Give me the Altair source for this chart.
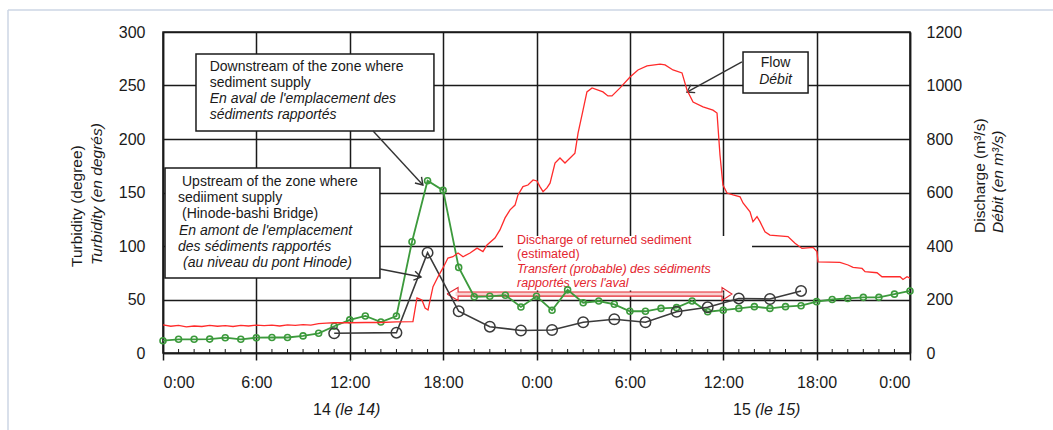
import math
import altair as alt
import pandas as pd

# ---------------- data ----------------
green_hours = list(range(49))
green_turbidity = [11.5, 12.8, 12.8, 13.0, 14.3, 12.8, 14.3, 14.5, 14.5, 16.0,
                   18.4, 25.0, 31.0, 34.6, 29.0, 34.6, 104.0, 161.0, 152.0, 80.0,
                   52.6, 53.0, 54.0, 43.0, 53.0, 40.0, 59.0, 47.0, 48.6, 45.5,
                   39.0, 39.0, 41.7, 42.4, 48.6, 38.6, 40.0, 41.7, 43.3, 41.7,
                   43.3, 44.2, 48.0, 50.0, 51.0, 52.0, 52.0, 55.0, 58.0]

black_hours = [11, 15, 17, 19, 21, 23, 25, 27, 29, 31, 33, 35, 37, 39, 41]
black_turbidity = [18.4, 19.0, 93.8, 39.0, 24.6, 21.0, 21.5, 28.7, 31.5, 28.7,
                   38.6, 42.7, 51.0, 50.5, 58.0]

flow_hours = [0, 0.5, 1, 1.5, 2, 2.5, 3, 3.5, 4, 4.5, 5, 5.5, 6, 6.5, 7, 7.5,
              8, 8.5, 9, 9.5, 10, 10.5, 11, 12, 13, 14, 15, 16.06,
              16.32, 16.64, 16.84, 17.03, 17.35, 17.67, 17.99, 18.31, 18.63,
              18.96, 19.28, 19.73, 20.18, 20.56, 20.82, 21.33, 21.65, 21.98,
              22.30, 22.62, 22.81, 23.13, 23.45, 23.78, 24.03, 24.22, 24.42,
              24.67, 24.87, 25.19, 25.51, 25.83, 26.47, 26.67, 26.99, 27.24,
              27.57, 28.27, 28.59, 28.85, 29.37, 30.01, 30.52, 31.10, 31.94,
              32.26, 32.77, 33.35, 33.67, 34.06, 34.70, 35.34, 35.60, 35.79,
              35.98, 36.24, 36.63, 37.08, 37.27, 37.72, 37.91, 38.17, 38.36,
              38.68, 39.00, 40.16, 40.61, 41.06, 41.77, 42.02, 42.09, 43.50,
              44.02, 44.34, 44.92, 45.11, 45.88, 46.20, 47.36, 47.55, 47.81, 48.0]
flow_discharge = [105, 100, 103, 98, 101, 99, 103, 100, 102, 99, 103, 101, 104,
                  102, 104, 101, 105, 103, 106, 104, 110, 112, 113, 113, 114,
                  114, 116, 117,
                  206, 198, 168, 161, 248, 285, 318, 355, 360,
                  374, 360, 374, 392, 379, 404, 430, 460, 505,
                  535, 553, 591, 622, 628, 647, 643, 622, 603,
                  617, 635, 710, 729, 710, 747, 822, 908, 976,
                  991, 976, 961, 961, 991, 1032, 1058, 1073, 1080,
                  1077, 1058, 1047, 983, 938, 920, 908, 897, 740,
                  628, 598, 591, 584, 561, 528, 491, 510, 491,
                  453, 441, 435, 410, 391, 395, 379, 341, 339,
                  329, 320, 316, 304, 300, 285, 285, 275, 285, 280]

x_tick_hours = [0, 6, 12, 18, 24, 30, 36, 42, 48]
left_ticks = [0, 50, 100, 150, 200, 250, 300]
right_ticks = [0, 200, 400, 600, 800, 1000, 1200]
minor_tick_hours = [h for h in range(49) if h % 6 != 0]

# ---------------- style ----------------
W, H = 747, 321
FONT = "Liberation Sans"
GREEN = "#3c9a3c"
RED = "#ff2b2b"
TEXT_RED = "#e3262f"
INK = "#1a1a1a"
FRAME = "#cdd6e4"

xscale = alt.Scale(domain=[0, 48], nice=False, zero=False)
xaxis = alt.Axis(values=x_tick_hours, title=None, grid=True,
                 labelExpr="floor(datum.value % 24) + ':00'")
yscale = alt.Scale(domain=[0, 300], nice=False)
yaxis = alt.Axis(values=left_ticks, title=None, grid=True, orient="left", format="d")


def X(f="x"):
    return alt.X(f"{f}:Q", scale=xscale, axis=xaxis)


def Y(f="y"):
    return alt.Y(f"{f}:Q", scale=yscale, axis=yaxis)


PXX = W / 48.0
PXY = H / 300.0

# ---------------- data frames ----------------
df_green = pd.DataFrame({"x": green_hours, "y": green_turbidity})
df_black = pd.DataFrame({"x": black_hours, "y": black_turbidity})
df_flow = pd.DataFrame({"x": flow_hours, "q": flow_discharge})
df_minor = pd.DataFrame({"x": minor_tick_hours})
one = pd.DataFrame({"a": [0]})

# annotation layout (data units: hours / turbidity)
boxes = pd.DataFrame({
    "x": [2.12, 0.13, 37.27], "x2": [17.41, 13.94, 41.45],
    "y": [279.4, 172.9, 281.3], "y2": [207.5, 70.1, 243.0]})
txt_normal = pd.DataFrame({
    "x": [3.0, 3.0, 1.22, 0.96, 1.22],
    "y": [267.3, 252.3, 159.8, 144.9, 129.9],
    "t": ["Downstream of the zone where", "sediment supply",
          "Upstream of the zone where", "sediiment supply",
          "(Hinode-bashi Bridge)"]})
txt_italic = pd.DataFrame({
    "x": [3.0, 3.0, 1.03, 0.96, 1.29],
    "y": [237.4, 222.4, 114.0, 99.1, 84.1],
    "t": ["En aval de l'emplacement des", "sédiments rapportés",
          "En amont de l'emplacement", "des sédiments rapportés",
          "(au niveau du pont Hinode)"]})
flow_lbl = pd.DataFrame({"x": [39.36], "y": [271.0], "t": ["Flow"]})
flow_lbl_i = pd.DataFrame({"x": [39.36], "y": [255.1], "t": ["Débit"]})

arrows = pd.DataFrame({
    "x": [13.5, 13.94, 37.2], "y": [207.5, 78.5, 272.0],
    "x2": [16.7, 16.58, 33.67], "y2": [157.0, 71.0, 243.9]})
arrows["a"] = [math.degrees(math.atan2(-(r.y2 - r.y) * PXY, (r.x2 - r.x) * PXX)) % 360
               for r in arrows.itertuples()]

red_bg = pd.DataFrame({"x": [21.85], "x2": [37.85], "y": [109.3], "y2": [58.5]})
red_txt_n = pd.DataFrame({"x": [22.75, 22.75], "y": [105.6, 92.1],
                          "t": ["Discharge of returned sediment", "(estimated)"]})
red_txt_i = pd.DataFrame({"x": [22.75, 22.75], "y": [78.5, 65.0],
                          "t": ["Transfert (probable) des sédiments",
                                "rapportés vers l'aval"]})
red_arrow = pd.DataFrame({
    "x": [18.25, 18.96, 18.96, 35.92, 35.92, 36.56, 35.92, 35.92, 18.96, 18.96, 18.25],
    "y": [55.1, 61.2, 57.0, 57.0, 61.2, 55.1, 49.0, 53.2, 53.2, 49.0, 55.1],
    "o": list(range(11))})
red_shaft = pd.DataFrame({"x": [18.8], "x2": [36.0], "y": [57.0], "y2": [53.2]})

# ---------------- layers ----------------
minor = alt.Chart(df_minor).mark_rule(color=INK, strokeWidth=1).encode(
    x=X(), y=alt.value(H - 4), y2=alt.value(H))

frame_left = alt.Chart(one).mark_rule(color=FRAME, strokeWidth=1.5).encode(
    x=alt.value(-155), y=alt.value(-22), y2=alt.value(400))
frame_top = alt.Chart(one).mark_rule(color=FRAME, strokeWidth=1.5).encode(
    x=alt.value(-155), x2=alt.value(900), y=alt.value(-22))

redbg = alt.Chart(red_bg).mark_rect(fill="white", strokeWidth=0).encode(
    x=X(), x2="x2", y=Y(), y2="y2")
shaft = alt.Chart(red_shaft).mark_rect(fill="#f9d2d2", strokeWidth=0).encode(
    x=X(), x2="x2", y=Y(), y2="y2")
rarrow = alt.Chart(red_arrow).mark_line(color=TEXT_RED, strokeWidth=1.1).encode(
    x=X(), y=Y(), order="o:Q")
rtn = alt.Chart(red_txt_n).mark_text(align="left", baseline="middle", font=FONT,
                                     fontSize=12.5, color=TEXT_RED).encode(
    x=X(), y=Y(), text="t:N")
rti = alt.Chart(red_txt_i).mark_text(align="left", baseline="middle", font=FONT,
                                     fontSize=12.5, fontStyle="italic",
                                     color=TEXT_RED).encode(
    x=X(), y=Y(), text="t:N")

gline = alt.Chart(df_green).mark_line(color=GREEN, strokeWidth=1.8).encode(x=X(), y=Y())
gpts = alt.Chart(df_green).mark_point(shape="circle", filled=False, color=GREEN,
                                      size=36, strokeWidth=1.6, opacity=1).encode(
    x=X(), y=Y())
bline = alt.Chart(df_black).mark_line(color="#3a3a3a", strokeWidth=1.6).encode(x=X(), y=Y())
bpts = alt.Chart(df_black).mark_point(shape="circle", filled=False, color="#3a3a3a",
                                      size=110, strokeWidth=1.5, opacity=1).encode(
    x=X(), y=Y())

box = alt.Chart(boxes).mark_rect(fill="white", stroke=INK, strokeWidth=1.5).encode(
    x=X(), x2="x2", y=Y(), y2="y2")
tn = alt.Chart(txt_normal).mark_text(align="left", baseline="middle", font=FONT,
                                     fontSize=14, color=INK).encode(
    x=X(), y=Y(), text="t:N")
ti = alt.Chart(txt_italic).mark_text(align="left", baseline="middle", font=FONT,
                                     fontSize=14, fontStyle="italic", color=INK).encode(
    x=X(), y=Y(), text="t:N")
fl = alt.Chart(flow_lbl).mark_text(align="center", baseline="middle", font=FONT,
                                   fontSize=14, color=INK).encode(
    x=X(), y=Y(), text="t:N")
fli = alt.Chart(flow_lbl_i).mark_text(align="center", baseline="middle", font=FONT,
                                      fontSize=14, fontStyle="italic", color=INK).encode(
    x=X(), y=Y(), text="t:N")
shafts = alt.Chart(arrows).mark_rule(color="#333333", strokeWidth=1.4).encode(
    x=X(), x2="x2", y=Y(), y2="y2")
heads = alt.Chart(arrows).mark_point(shape="M-1,-0.65L0,0L-1,0.65", filled=False,
                                     color="#333333", size=190, strokeWidth=1.4,
                                     opacity=1).encode(
    x=X("x2"), y=Y("y2"), angle=alt.Angle("a:Q", scale=None))


def vtext(t, x, y, italic=False, angle=270, align="left", size=15.5):
    kw = dict(align=align, baseline="middle", font=FONT, fontSize=size, color=INK)
    if angle:
        kw["angle"] = angle
    if italic:
        kw["fontStyle"] = "italic"
    return alt.Chart(one).mark_text(**kw).encode(
        x=alt.value(x), y=alt.value(y), text=alt.value(t))


titles = [
    vtext("Turbidity (degree)", -86, 235),
    vtext("Turbidity (en degrés)", -66, 233, italic=True),
    vtext("Discharge (m³/s)", 817, 201),
    vtext("Débit (en m³/s)", 835, 201, italic=True),
    vtext("14", 150, 378, angle=0, size=16),
    vtext("(le 14)", 172, 378, italic=True, angle=0, size=16),
    vtext("15", 570, 378, angle=0, size=16),
    vtext("(le 15)", 592, 378, italic=True, angle=0, size=16),
]

turb = alt.layer(minor, frame_left, frame_top, redbg, shaft, rarrow, rtn, rti,
                 gline, gpts, bline, bpts, box, tn, ti, fl, fli, shafts, heads,
                 *titles)

flow = alt.Chart(df_flow).mark_line(color=RED, strokeWidth=1.3).encode(
    x=X(),
    y=alt.Y("q:Q", scale=alt.Scale(domain=[0, 1200], nice=False),
            axis=alt.Axis(orient="right", values=right_ticks, title=None,
                          grid=False, format="d")))

chart = alt.layer(turb, flow).resolve_scale(y="independent").properties(
    width=W, height=H, autosize="none",
    padding={"left": 163, "top": 32, "right": 143, "bottom": 77},
    background="white",
).configure_view(stroke=INK, strokeWidth=1.5).configure_axis(
    gridColor=INK, gridWidth=1.5, gridOpacity=1,
    domainColor=INK, domainWidth=1.5,
    tickColor=INK, tickWidth=1.5,
    labelFont=FONT, labelFontSize=16, labelColor=INK,
).configure_axisX(tickSize=7, labelPadding=14).configure_axisLeft(
    ticks=False, labelPadding=18).configure_axisRight(ticks=False, labelPadding=16)

chart.save("out.html", embed_options={"renderer": "svg", "actions": False})
